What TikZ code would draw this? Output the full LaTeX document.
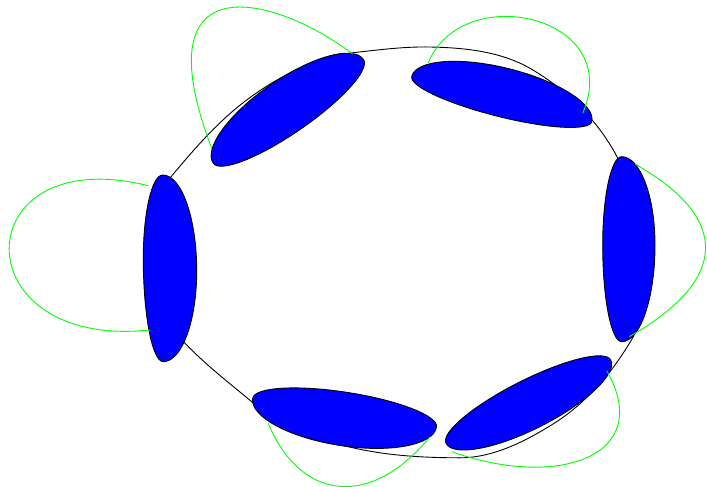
\documentclass[tikz,border=0pt]{standalone}
\usetikzlibrary{calc}
\definecolor{blobblue}{RGB}{0,0,255}
\definecolor{loopgreen}{RGB}{0,255,0}
\tikzset{
  ring/.style={draw=black, line width=0.9pt},
  blobshape/.style={draw=black, fill=blobblue, line width=0.9pt},
  selfloop/.style={draw=loopgreen, line width=0.9pt},
}
% blob through tip #1, side #2, tip #3, side #4
\newcommand\drawblob[4]{%
  \path ($(#1)!(#2)!(#3)$) coordinate (F-#1) ($(#1)!(#4)!(#3)$) coordinate (G-#1);
  \draw[blobshape] (#1)
    .. controls ($(#1)+0.5523*(#2)-0.5523*(F-#1)$) and ($(#2)+0.5523*(#1)-0.5523*(F-#1)$) .. (#2)
    .. controls ($(#2)+0.5523*(#3)-0.5523*(F-#1)$) and ($(#3)+0.5523*(#2)-0.5523*(F-#1)$) .. (#3)
    .. controls ($(#3)+0.5523*(#4)-0.5523*(G-#1)$) and ($(#4)+0.5523*(#3)-0.5523*(G-#1)$) .. (#4)
    .. controls ($(#4)+0.5523*(#1)-0.5523*(G-#1)$) and ($(#1)+0.5523*(#4)-0.5523*(G-#1)$) .. (#1) -- cycle;
}
\begin{document}
\begin{tikzpicture}[x=1pt,y=-1pt]
\fill[white] (0,0) rectangle (707,487);
\useasboundingbox (0,0) rectangle (707,487);

% big ring anchors
\coordinate (r1) at (166.7,182);
\coordinate (r2) at (246.7,100);
\coordinate (r3) at (356.7,52.3);
\coordinate (r4) at (430,47);
\coordinate (r5) at (530,68.3);
\coordinate (r6) at (613.3,150);
\coordinate (r7) at (640,246);
\coordinate (r8) at (633.3,336.7);
\coordinate (r9) at (553,424);
\coordinate (r10) at (460,457.8);
\coordinate (r11) at (360,449.3);
\coordinate (r12) at (251.7,401.7);
\coordinate (r13) at (185,343.3);

\draw[ring] (r1)
  .. controls (191.1,152.6) and (216.1,122.9) .. (r2)
  .. controls (278.7,76) and (317.1,56.7) .. (r3)
  .. controls (381,49.6) and (405.5,46.5) .. (r4)
  .. controls (464.1,47.7) and (500.3,51.3) .. (r5)
  .. controls (563.8,87.8) and (593.8,116.2) .. (r6)
  .. controls (630.1,179.3) and (640,212.3) .. (r7)
  .. controls (640,280) and (640.8,323.7) .. (r8)
  .. controls (613.6,371.1) and (586.6,403.1) .. (r9)
  .. controls (525,441.5) and (493,457.8) .. (r10)
  .. controls (426.5,457.8) and (392.8,456) .. (r11)
  .. controls (321.4,441.4) and (282,426.9) .. (r12)
  .. controls (229,382.8) and (205.4,364.5) .. (r13)
  .. controls (157.4,314.5) and (141.1,212.8) .. (r1) -- cycle;

% blob key points
\coordinate (b1p) at (162.7,175);   \coordinate (b1s) at (143.3,260);
\coordinate (b1q) at (163.3,361.7); \coordinate (b1t) at (196.7,270);
\coordinate (b2p) at (213.3,163.3); \coordinate (b2s) at (270.2,85.1);
\coordinate (b2q) at (363.5,59.5);  \coordinate (b2t) at (300.6,129.1);
\coordinate (b3p) at (411.7,76.5);  \coordinate (b3s) at (509.3,68.8);
\coordinate (b3q) at (591.7,121.7); \coordinate (b3t) at (497.3,116.2);
\coordinate (b4p) at (621.7,156.7); \coordinate (b4s) at (602.7,245);
\coordinate (b4q) at (621.7,341.7); \coordinate (b4t) at (655,245);
\coordinate (b5p) at (446,443.3);   \coordinate (b5s) at (518.7,382.5);
\coordinate (b5q) at (610.7,360);   \coordinate (b5t) at (540.8,426.2);
\coordinate (b6p) at (252.7,398.3); \coordinate (b6s) at (347.9,392.5);
\coordinate (b6q) at (436.5,427);   \coordinate (b6t) at (339.6,445.4);

\drawblob{b1p}{b1s}{b1q}{b1t}
\drawblob{b2p}{b2s}{b2q}{b2t}
\drawblob{b3p}{b3s}{b3q}{b3t}
\drawblob{b4p}{b4s}{b4q}{b4t}
\drawblob{b5p}{b5s}{b5q}{b5t}
\drawblob{b6p}{b6s}{b6q}{b6t}

% self loops
\coordinate (l1a) at (148.3,185.7); \coordinate (l1b) at (150,330);
\coordinate (l2a) at (211.7,148.3); \coordinate (l2b) at (352.7,54);
\coordinate (l3a) at (428.3,62.8);  \coordinate (l3b) at (582.7,113.3);
\coordinate (l4a) at (635,164);     \coordinate (l4b) at (629.3,336.7);
\coordinate (l5a) at (606.7,370.7); \coordinate (l5b) at (451.7,451.7);
\coordinate (l6a) at (268.3,423.3); \coordinate (l6b) at (430,436.7);

\draw[selfloop] (l1a) .. controls (-35,140) and (-40,350) .. (l1b);
\draw[selfloop] (l2a) .. controls (140,-40) and (275,-5) .. (l2b);
\draw[selfloop] (l3a) .. controls (462,-20) and (625,15) .. (l3b);
\draw[selfloop] (l4a) .. controls (730,218) and (730,279) .. (l4b);
\draw[selfloop] (l5a) .. controls (655,455) and (560,490) .. (l5b);
\draw[selfloop] (l6a) .. controls (300,500) and (370,510) .. (l6b);
\end{tikzpicture}
\end{document}
